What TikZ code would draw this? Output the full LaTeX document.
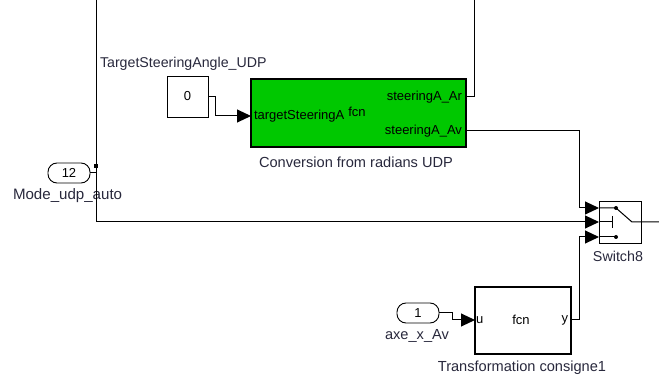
\documentclass[tikz,border=0pt]{standalone}
\usepackage{fontspec}
\setmainfont{Liberation Sans}
\usetikzlibrary{arrows.meta,calc}
\definecolor{blockgreen}{RGB}{0,200,0}
\definecolor{labeltext}{RGB}{40,40,60}

\begin{document}
\begin{tikzpicture}[x=1pt,y=-1pt]
	\path [use as bounding box] (0,0) rectangle (659,379);
	\tikzstyle{every node} = [font=\fontsize{14.6}{15}\selectfont, inner sep=0pt, outer sep=0pt, text=labeltext]
	\tikzstyle{wire} = [draw, line width=1pt]
	\tikzstyle{sig} = [wire, -{Triangle[length=14pt,width=13pt]}]
	\tikzstyle{block} = [draw, line width=2.4pt, anchor=north west, text=black]
	\tikzstyle{const} = [draw, line width=.9pt, fill=white, anchor=north west, minimum width=41pt, minimum height=41pt, text=black, font=\fontsize{13}{14}\selectfont]
	\tikzstyle{port} = [draw, line width=.9pt, rounded corners=9pt, minimum width=42pt, minimum height=20pt, text=black, font=\fontsize{13}{14}\selectfont]
	\tikzstyle{pin} = [text=black, font=\fontsize{13}{14}\selectfont]

	% blocks
	\node [const] (zero) at (167,76) {0};
	\node [block, fill=blockgreen, minimum width=215pt, minimum height=68pt] (conv) at (251,79) {};
	\node [block, minimum width=96pt, minimum height=67pt] (transf) at (475,287) {};
	\node [draw, line width=.9pt, anchor=north west, minimum width=42pt, minimum height=42pt] (sw) at (599,201) {};
	\node [port] (mode) at (69,173) {12};
	\node [port] (axe) at (418,313) {1};

	% labels
	\node [anchor=west, font=\fontsize{14.2}{15}\selectfont] (lblzero) at (100,64) {TargetSteeringAngle\_UDP};
	\node [anchor=west, font=\fontsize{15.1}{16}\selectfont] (lblmode) at (13,196) {Mode\_udp\_auto};
	\node (lblconv) at (356,162) {Conversion from radians UDP};
	\node [font=\fontsize{14.3}{15}\selectfont] (lblsw) at (618,256) {Switch8};
	\node (lblaxe) at (417,336) {axe\_x\_Av};
	\node (lbltransf) at (522,368) {Transformation consigne1};
	\node [pin, anchor=west] (intarget) at (254,116) {targetSteeringA};
	\node [pin] (fcnconv) at (357,112) {fcn};
	\node [pin, anchor=east] (outar) at (462,97) {steeringA\_Ar};
	\node [pin, anchor=east] (outav) at (462,131) {steeringA\_Av};
	\node [pin, anchor=west] (inu) at (476,320) {u};
	\node [pin] (fcntransf) at (521,320) {fcn};
	\node [pin, anchor=east] (outy) at (568,320) {y};

	% ends of the wires
	\coordinate (top1) at (96,0);
	\coordinate (top2) at (474,0);
	\coordinate (tee) at (96,166);
	\coordinate (corner) at (96,222);
	\coordinate (exit) at (659,222);
	\coordinate (sw1) at (599,208);
	\coordinate (sw2) at (599,222);
	\coordinate (sw3) at (599,237);
	\coordinate (dot1) at (616,208);
	\coordinate (dot3) at (616,237);
	\coordinate (bar) at (612,222);
	\coordinate (pivot) at (632,222);

	% wires
	\draw [wire] (top1) -- (corner);
	\draw [sig] (corner) -- (sw2);
	\draw [wire] (mode.east) -- (mode.east -| tee);
	\fill (tee) ++(-2,-2) rectangle ++(4,4);
	\draw [sig] (zero.east) -- ++(7,0) |- (intarget.west -| conv.west);
	\draw [wire] (conv.east |- outar) -| (top2);
	\draw [sig] (conv.east |- outav) -| (579,208) -- (sw1);
	\draw [sig] (transf.east |- outy) -| (579,237) -- (sw3);
	\draw [sig] (axe.east) -- ++(13,0) |- (inu.west -| transf.west);

	% inside of the switch
	\draw [wire] (sw1) -- (dot1) -- (pivot) -- (sw.east |- pivot) -- (exit);
	\draw [wire] (sw2) -- (bar);
	\draw [wire] (612,216) -- (612,228);
	\draw [wire] (sw3) -- (dot3);
	\fill (dot1) circle (2pt);
	\fill (dot3) circle (2pt);
\end{tikzpicture}
\end{document}
